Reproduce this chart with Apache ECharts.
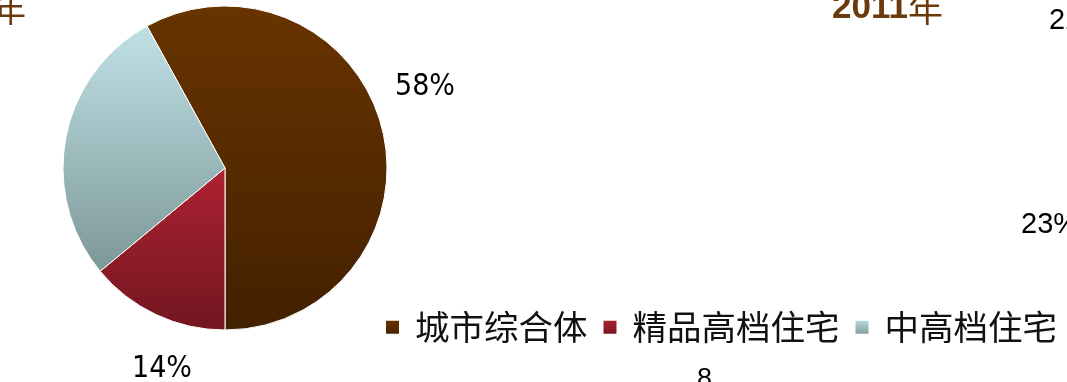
<!DOCTYPE html>
<html>
<head>
<meta charset="utf-8">
<script src="https://cdn.jsdelivr.net/npm/echarts@6/dist/echarts.min.js"></script>
<style>
html,body{margin:0;padding:0;background:#fff;}
#chart{width:1067px;height:382px;}
</style>
</head>
<body>
<div id="chart"></div>
<script>
// ---- data ----
const categories = ['城市综合体', '精品高档住宅', '中高档住宅'];
const values = [58, 14, 28];
const percentLabels = ['58%', '14%', '28%'];
// ---- styling / layout (not data) ----
const gradients = [
  ['#683400', '#432000'],
  ['#ae2232', '#721620'],
  ['#bfe1e6', '#7d9797']
];
const labelPos = [[425, 87], [162, 369], [36, 87]];

const chart = echarts.init(document.getElementById('chart'), null, {renderer: 'canvas'});
const brown = '#6b3a0c';
const pctFont = "'Liberation Sans Narrow','DejaVu Sans Condensed','Liberation Sans',sans-serif";

const option = {
  backgroundColor: '#ffffff',
  animation: false,
  legend: {
    left: 379,
    top: 305,
    width: 900,
    itemWidth: 15,
    itemHeight: 15,
    itemGap: 14,
    icon: 'rect',
    textStyle: {
      fontFamily: "'Noto Sans CJK SC', sans-serif",
      fontSize: 34.5,
      color: '#111',
      padding: [0, 0, 0, 10]
    },
    data: categories
  },
  graphic: [
    {type: 'text', right: 1041, top: -8, style: {
      text: '{b|2010}{n|年}',
      rich: {
        b: {fontFamily: "'Liberation Sans',Arial,sans-serif", fontWeight: 'bold', fontSize: 34, fill: brown},
        n: {fontFamily: "'Noto Sans CJK SC',sans-serif", fontSize: 34, fill: brown}
      }
    }},
    {type: 'text', left: 832, top: -9, style: {
      text: '{b|2011}{n|年}',
      rich: {
        b: {fontFamily: "'Liberation Sans',Arial,sans-serif", fontWeight: 'bold', fontSize: 35, fill: brown},
        n: {fontFamily: "'Noto Sans CJK SC',sans-serif", fontSize: 35, fill: brown}
      }
    }},
    {type: 'text', left: 1049, top: 6, style: {text: '22%', fontFamily: "'Liberation Sans',Arial,sans-serif", fontSize: 29, fill: '#000'}},
    {type: 'text', left: 1021, top: 210, style: {text: '23%', fontFamily: "'Liberation Sans',Arial,sans-serif", fontSize: 29, fill: '#000'}},
    {type: 'text', left: 697, top: 366, style: {text: '8', fontFamily: "'Liberation Sans',Arial,sans-serif", fontSize: 27, fill: '#000'}}
  ],
  series: [{
    type: 'pie',
    center: [225, 168],
    radius: [0, 162],
    startAngle: 118.8,
    clockwise: true,
    silent: true,
    itemStyle: {borderColor: '#ffffff', borderWidth: 1},
    label: {
      show: true,
      position: 'outside',
      formatter: p => percentLabels[p.dataIndex],
      fontFamily: pctFont,
      fontSize: 30,
      color: '#000'
    },
    labelLine: {show: false},
    labelLayout: p => ({
      x: labelPos[p.dataIndex][0],
      y: labelPos[p.dataIndex][1],
      align: 'center',
      verticalAlign: 'middle'
    }),
    data: categories.map((c, i) => ({
      name: c,
      value: values[i],
      itemStyle: {
        color: new echarts.graphic.LinearGradient(0, 0, 0, 1, [
          {offset: 0, color: gradients[i][0]},
          {offset: 1, color: gradients[i][1]}
        ])
      }
    }))
  }]
};
chart.setOption(option);
</script>
</body>
</html>
